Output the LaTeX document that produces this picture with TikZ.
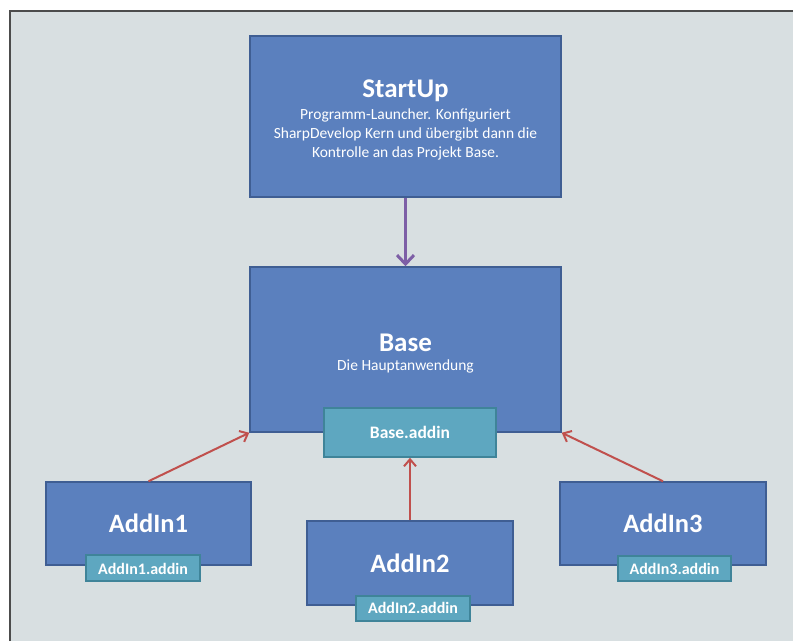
\documentclass[tikz,border=0pt]{standalone}
\usepackage{fontspec}
\setmainfont{Carlito}
\usetikzlibrary{arrows.meta}
\definecolor{bg}{HTML}{D8DFE1}
\definecolor{boxfill}{HTML}{5B80BE}
\definecolor{boxdraw}{HTML}{3F5E93}
\definecolor{addfill}{HTML}{5EA7C0}
\definecolor{adddraw}{HTML}{3F8499}
\definecolor{redarr}{HTML}{C0504D}
\definecolor{purarr}{HTML}{7D5FA6}
\begin{document}
\begin{tikzpicture}[x=1pt,y=-1pt,
  mainbox/.style={draw=boxdraw,line width=1.5pt,fill=boxfill,text=white,inner sep=0pt,text depth=0pt},
  addbox/.style={draw=adddraw,line width=1.5pt,fill=addfill,text=white,inner sep=0pt,text depth=0pt},
  bigfont/.style={font=\fontsize{26.5}{30}\selectfont\bfseries},
  addfont/.style={font=\fontsize{16}{19}\selectfont\bfseries},
  redline/.style={draw=redarr,line width=2pt,-{Straight Barb[length=7pt,width=12pt]}},
  purline/.style={draw=purarr,line width=3pt,-{Straight Barb[length=9pt,width=17pt]}}]
\useasboundingbox (0,0) rectangle (793,641);
\fill[white] (0,0) rectangle (793,641);
\fill[bg] (10,11) rectangle (793,641);
\draw[black!70,line width=1.2pt] (10,641) -- (10,11) -- (793,11);
% StartUp
\node[mainbox,minimum width=311pt,minimum height=161pt] (startup) at (405.5,116.5) {};
\node[text=white,anchor=base,font=\fontsize{27}{30}\selectfont\bfseries] (startuptitle) at (405.5,97.5) {StartUp};
\node[text=white,align=center,font=\fontsize{15.5}{18.6}\selectfont] (startuptxt) at (405.5,134.5)
  {Programm-Launcher. Konfiguriert\\SharpDevelop Kern und übergibt dann die\\Kontrolle an das Projekt Base.};
% Base
\node[mainbox,minimum width=311pt,minimum height=165pt] (base) at (405.5,349.5) {};
\node[text=white,anchor=base,font=\fontsize{27}{30}\selectfont\bfseries] (basetitle) at (405.5,351) {Base};
\node[text=white,anchor=base,font=\fontsize{15.5}{18.6}\selectfont] (basetxt) at (405.5,370.5) {Die Hauptanwendung};
\node[addbox,minimum width=172pt,minimum height=49pt,text height=11pt,font=\fontsize{17.5}{20}\selectfont\bfseries] (baseaddin) at (410,432.5) {Base.addin};
% AddIn1
\node[mainbox,bigfont,minimum width=205pt,minimum height=83pt,text height=17pt] (a1) at (148.5,523.5) {AddIn1};
\node[addbox,addfont,minimum width=114pt,minimum height=26pt,text height=12pt] (a1add) at (143,568) {AddIn1.addin};
% AddIn2
\node[mainbox,bigfont,minimum width=206pt,minimum height=84pt,text height=18pt] (a2) at (410,563) {AddIn2};
\node[addbox,addfont,minimum width=114pt,minimum height=25pt,text height=10pt] (a2add) at (413,608.5) {AddIn2.addin};
% AddIn3
\node[mainbox,bigfont,minimum width=206pt,minimum height=83pt,text height=17pt] (a3) at (663,523.5) {AddIn3};
\node[addbox,addfont,minimum width=113pt,minimum height=25pt,text height=11pt] (a3add) at (674.5,568.5) {AddIn3.addin};
% arrows
\draw[purline] (startup.south) -- (base.north);
\draw[redline] (a1.north) -- (base.south west);
\draw[redline] (a2.north) -- (baseaddin.south);
\draw[redline] (a3.north) -- (base.south east);
\end{tikzpicture}
\end{document}
